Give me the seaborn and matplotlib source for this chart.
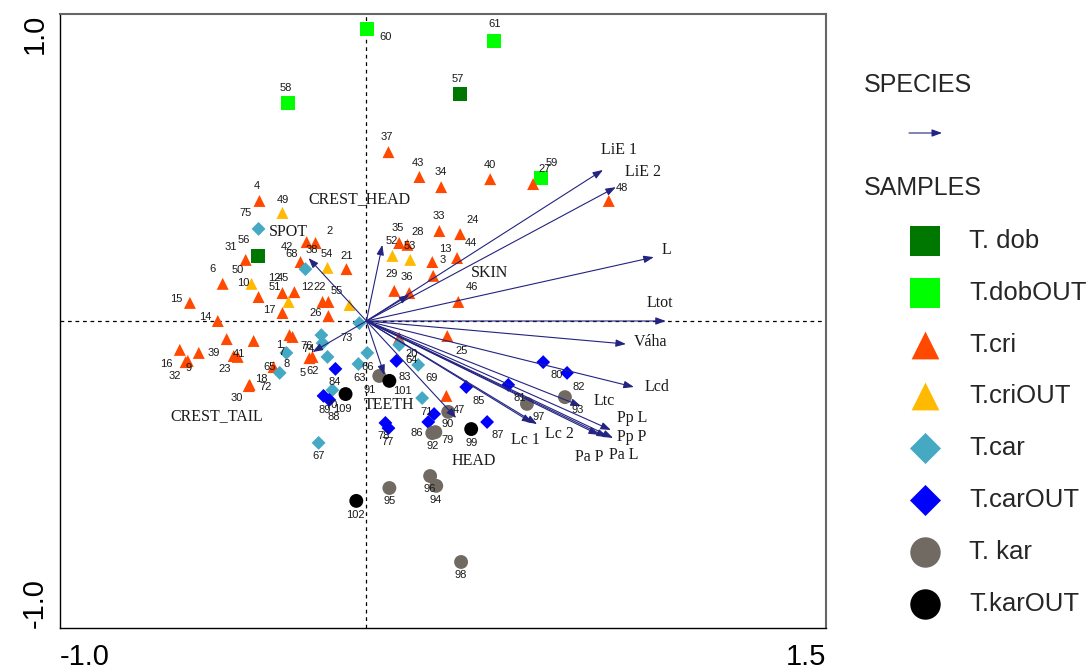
import matplotlib
matplotlib.use("Agg")
import matplotlib.pyplot as plt
import numpy as np
import pandas as pd
import seaborn as sns

sns.set_style("white")
plt.rcParams["font.family"] = ["Liberation Sans", "DejaVu Sans"]

# ---------------- data ----------------
groups = ["T. dob", "T.dobOUT", "T.cri", "T.criOUT", "T.car", "T.carOUT", "T. kar", "T.karOUT"]

dob_labels = ["57", "56"]
dob_x = [0.306, -0.355]
dob_y = [0.739, 0.212]

dobout_labels = ["60", "61", "58", "59"]
dobout_x = [0.003, 0.417, -0.257, 0.570]
dobout_y = [0.951, 0.912, 0.710, 0.466]

cri_labels = ["37", "43", "34", "40", "27", "48", "4", "31", "6", "10", "12", "45", "17", "15", "14",
              "2", "38", "42", "21", "12", "22", "26", "33", "24", "44", "13", "3", "35", "28", "29",
              "36", "46", "25", "47", "20", "", "", "16", "39", "9", "32", "41", "23", "1", "7",
              "65", "18", "30", "62", "5"]
cri_x = [0.072, 0.173, 0.244, 0.404, 0.544, 0.791, -0.349, -0.394, -0.469, -0.352, -0.274, -0.235,
         -0.274, -0.576, -0.485, -0.166, -0.195, -0.215, -0.065, -0.143, -0.124, -0.124, 0.238, 0.306,
         0.296, 0.215, 0.218, 0.107, 0.134, 0.091, 0.140, 0.300, 0.264, 0.261, 0.107, -0.456, -0.368,
         -0.609, -0.547, -0.583, -0.590, -0.420, -0.433, -0.251, -0.241, -0.303, -0.381, -0.384,
         -0.176, -0.186]
cri_y = [0.550, 0.469, 0.436, 0.462, 0.446, 0.391, 0.391, 0.199, 0.121, 0.078, 0.091, 0.094,
         0.026, 0.059, 0.000, 0.254, 0.257, 0.192, 0.169, 0.062, 0.062, 0.016, 0.293, 0.283,
         0.205, 0.192, 0.147, 0.254, 0.248, 0.098, 0.091, 0.062, -0.049, -0.244, -0.055, -0.059,
         -0.065, -0.094, -0.104, -0.130, -0.134, -0.117, -0.114, -0.046, -0.052, -0.150, -0.208,
         -0.212, -0.117, -0.121]

criout_labels = ["49", "50", "51", "54", "55", "52", "53"]
criout_x = [-0.274, -0.375, -0.254, -0.127, -0.055, 0.085, 0.143]
criout_y = [0.352, 0.121, 0.062, 0.173, 0.052, 0.212, 0.199]

car_labels = ["75", "68", "73", "76", "74", "8", "", "72", "63", "66", "70", "67", "64", "69", "71"]
car_x = [-0.352, -0.199, -0.023, -0.147, -0.143, -0.261, -0.127, -0.283, -0.026, 0.003, -0.111,
         -0.156, 0.107, 0.169, 0.182]
car_y = [0.300, 0.169, -0.007, -0.046, -0.072, -0.104, -0.117, -0.169, -0.140, -0.104, -0.225,
         -0.397, -0.078, -0.143, -0.251]

carout_labels = ["84", "89", "88", "83", "78", "77", "85", "81", "80", "82", "87", "86", ""]
carout_x = [-0.101, -0.140, -0.121, 0.098, 0.062, 0.072, 0.326, 0.463, 0.577, 0.655, 0.394, 0.202, 0.221]
carout_y = [-0.156, -0.244, -0.257, -0.130, -0.332, -0.349, -0.215, -0.208, -0.134, -0.169, -0.329,
            -0.329, -0.303]

kar_labels = ["91", "97", "93", "90", "92", "79", "95", "96", "94", "98"]
kar_x = [0.042, 0.524, 0.648, 0.267, 0.215, 0.225, 0.075, 0.208, 0.228, 0.309]
kar_y = [-0.179, -0.270, -0.248, -0.296, -0.365, -0.362, -0.544, -0.505, -0.537, -0.785]

karout_labels = ["101", "109", "99", "102"]
karout_x = [0.075, -0.068, 0.342, -0.033]
karout_y = [-0.195, -0.238, -0.352, -0.586]

species_names = ["LiE 1", "LiE 2", "L", "Ltot", "Váha", "Lcd", "Ltc", "Pp L", "Pp P", "Pa L", "Pa P",
                 "Lc 2", "Lc 1", "HEAD", "TEETH", "CREST_TAIL", "SPOT", "CREST_HEAD", "SKIN"]
species_x = [0.772, 0.814, 0.938, 0.977, 0.847, 0.873, 0.700, 0.798, 0.805, 0.785, 0.759,
             0.557, 0.541, 0.293, 0.059, -0.176, -0.189, 0.052, 0.140]
species_y = [0.492, 0.436, 0.208, 0.000, -0.075, -0.215, -0.277, -0.355, -0.381, -0.378, -0.371,
             -0.336, -0.332, -0.316, -0.176, -0.101, 0.205, 0.248, 0.085]

# ---------------- layout (label offsets in pixels) ----------------
label_offsets = {
    "T. dob": [(-2, 15), (-14, 16)],
    "T.dobOUT": [(18, -8), (0, 17), (-2, 15), (11, 15)],
    "T.cri": [(-2, 15), (-1, 14), (0, 15), (0, 14), (12, 15), (13, 13), (-3, 15), (-15, 13), (-10, 15),
              (-15, 14), (-8, 15), (-12, 14), (-13, 3), (-14, 4), (-13, 4), (14, 12), (5, -8), (-14, 15),
              (0, 13), (-15, 15), (-9, 15), (-13, 3), (-1, 15), (12, 14), (14, 15), (13, 13), (9, 16),
              (-1, 15), (10, 13), (-3, 17), (-2, 16), (14, 15), (14, -15), (13, -14), (12, -16), (0, 0),
              (0, 0), (-13, -14), (15, 0), (1, -7), (-11, -14), (1, 3), (-9, -13), (-10, -10), (-11, -15),
              (-4, 0), (12, 6), (-12, -12), (0, -14), (-7, -15)],
    "T.criOUT": [(0, 13), (-14, 14), (-14, 15), (-1, 14), (-13, 14), (-1, 15), (0, 14)],
    "T.car": [(-13, 16), (-14, 15), (-13, -15), (-15, -11), (-14, -6), (0, -11), (0, 0), (-14, -14),
              (1, -14), (0, -14), (-1, -15), (0, -13), (12, -15), (13, -13), (4, -14)],
    "T.carOUT": [(-1, -13), (1, -14), (4, -17), (8, -16), (-2, -13), (-1, -14), (12, -14), (11, -13),
                 (13, -13), (12, -14), (11, -13), (-12, -11), (0, 0)],
    "T. kar": [(-10, -14), (12, -13), (13, -13), (-1, -12), (0, -13), (12, -8), (0, -13), (0, -13),
               (-1, -14), (0, -13)],
    "T.karOUT": [(13, -10), (-3, -15), (0, -14), (-1, -14)],
}
species_offsets = [(16, 20), (27, 15), (13, 7), (-6, 18), (25, 2), (23, 0), (23, 5), (21, 12), (19, 1),
                   (17, -18), (-10, -22), (22, -10), (-7, -17), (18, -43), (5, -30), (-96, -64),
                   (-20, 26), (-23, 46), (80, 22)]

palette = {"T. dob": "#007700", "T.dobOUT": "#00ff00", "T.cri": "#ff4800", "T.criOUT": "#ffb900",
           "T.car": "#45a9c3", "T.carOUT": "#0000ff", "T. kar": "#716a62", "T.karOUT": "#000000"}
marker_map = {"T. dob": "s", "T.dobOUT": "s", "T.cri": "^", "T.criOUT": "^",
              "T.car": "D", "T.carOUT": "D", "T. kar": "o", "T.karOUT": "o"}
size_map = {"T. dob": 100, "T.dobOUT": 100, "T.cri": 74, "T.criOUT": 74,
            "T.car": 50, "T.carOUT": 50, "T. kar": 100, "T.karOUT": 100}
legend_size = {"s": 480, "^": 400, "D": 250, "o": 480}
ARROW = "#232381"

group_data = {
    "T. dob": (dob_labels, dob_x, dob_y),
    "T.dobOUT": (dobout_labels, dobout_x, dobout_y),
    "T.cri": (cri_labels, cri_x, cri_y),
    "T.criOUT": (criout_labels, criout_x, criout_y),
    "T.car": (car_labels, car_x, car_y),
    "T.carOUT": (carout_labels, carout_x, carout_y),
    "T. kar": (kar_labels, kar_x, kar_y),
    "T.karOUT": (karout_labels, karout_x, karout_y),
}
rows = []
for g in groups:
    labs, xs, ys = group_data[g]
    for lab, x, y, off in zip(labs, xs, ys, label_offsets[g]):
        rows.append({"group": g, "label": lab, "x": x, "y": y, "dx": off[0], "dy": off[1]})
df = pd.DataFrame(rows)

# ---------------- figure ----------------
fig = plt.figure(figsize=(10.91, 6.71), dpi=100)
ax = fig.add_axes([60 / 1091, 43 / 671, 766 / 1091, 614 / 671])

ax.axhline(0, color="black", lw=0.9, ls=(0, (3, 3)), zorder=1)
ax.axvline(0, color="black", lw=0.9, ls=(0, (3, 3)), zorder=1)

sns.scatterplot(data=df, x="x", y="y", hue="group", style="group", size="group",
                hue_order=groups, style_order=groups, size_order=groups,
                palette=palette, markers=marker_map, sizes=size_map,
                linewidth=0, legend=False, ax=ax, zorder=3)

for _, r in df.iterrows():
    if r["label"]:
        ax.annotate(r["label"], (r["x"], r["y"]), xytext=(r["dx"], r["dy"]),
                    textcoords="offset pixels", ha="center", va="center",
                    fontsize=8, color="#1a1a1a", zorder=6)

arrow_props = dict(arrowstyle="-|>,head_length=0.6,head_width=0.22", color=ARROW, lw=0.8,
                   shrinkA=0, shrinkB=0, mutation_scale=10)
for name, x, y, (dx, dy) in zip(species_names, species_x, species_y, species_offsets):
    ax.annotate("", xy=(x, y), xytext=(0, 0), arrowprops=arrow_props, zorder=4)
    ax.annotate(name, xy=(x, y), xytext=(dx, dy), textcoords="offset pixels",
                ha="center", va="center", fontsize=11.5, color="#1a1a1a",
                family=["Liberation Serif", "DejaVu Serif"], zorder=6)

ax.set_xlim(-1.0, 1.5)
ax.set_ylim(-1.0, 1.0)
ax.set_xlabel("")
ax.set_ylabel("")
ax.set_xticks([-1.0, -0.5, 0.0, 0.5, 1.0, 1.5])
ax.set_xticklabels(["-1.0", "", "", "", "", "1.5"], fontsize=21)
ax.set_yticks([-1.0, -0.5, 0.0, 0.5, 1.0])
ax.set_yticklabels(["-1.0", "", "", "", "1.0"], fontsize=21, rotation=90)
xl = ax.get_xticklabels()
xl[0].set_ha("left")
xl[-1].set_ha("right")
yl = ax.get_yticklabels()
yl[0].set_va("bottom")
yl[-1].set_va("top")
ax.tick_params(axis="both", direction="inout", length=8, width=1, colors="black")
ax.tick_params(axis="x", pad=7)
ax.tick_params(axis="y", pad=4)
for s in ["left", "bottom"]:
    ax.spines[s].set_color("black")
    ax.spines[s].set_linewidth(1)
for s in ["top", "right"]:
    ax.spines[s].set_color("#666666")
    ax.spines[s].set_linewidth(1.5)

# ---------------- legend (drawn in pixel layout) ----------------
lax = fig.add_axes([0, 0, 1, 1], facecolor="none")
lax.set_xlim(0, 1091)
lax.set_ylim(671, 0)
lax.axis("off")
lax.text(864, 85, "SPECIES", fontsize=18, va="center", ha="left")
lax.annotate("", xy=(942, 133), xytext=(909, 133),
             arrowprops=dict(arrowstyle="-|>,head_length=0.6,head_width=0.22", color=ARROW, lw=0.8,
                             shrinkA=0, shrinkB=0, mutation_scale=10))
lax.text(864, 188, "SAMPLES", fontsize=18, va="center", ha="left")
for i, g in enumerate(groups):
    yy = 241 + i * 51.8
    m = marker_map[g]
    lax.scatter([925], [yy], marker=m, s=legend_size[m], color=palette[g], linewidths=0)
    lax.text(969, yy, g, fontsize=18.5, va="center", ha="left")

fig.savefig("out.png", dpi=100)
